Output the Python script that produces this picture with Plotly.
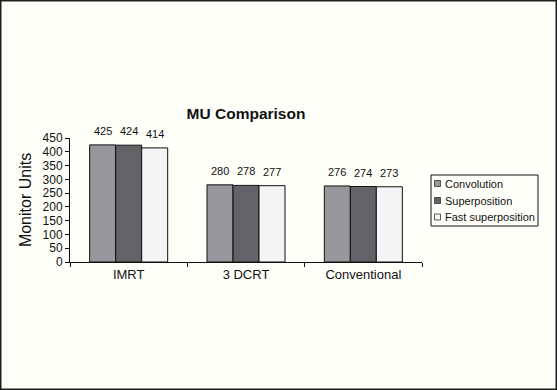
import plotly.graph_objects as go

categories = ["IMRT", "3 DCRT", "Conventional"]
convolution = [425, 280, 276]
superposition = [424, 278, 274]
fast_superposition = [414, 277, 273]
series_names = ["Convolution", "Superposition", "Fast superposition"]
series_colors = ["#97979b", "#636367", "#f4f4f4"]
y_ticks = [0, 50, 100, 150, 200, 250, 300, 350, 400, 450]

W, H = 557, 390
ML, MR, MT, MB = 70, 135, 138, 128
PW = W - ML - MR
PH = H - MT - MB
FONT = "Liberation Sans, Arial, sans-serif"
INK = "#111111"


def px_x(p):
    return (p - ML) / PW


def px_y(p):
    return (MT + PH - p) / PH


fig = go.Figure()
series = [convolution, superposition, fast_superposition]
for name, vals, col in zip(series_names, series, series_colors):
    fig.add_trace(go.Bar(
        x=categories, y=vals, name=name, showlegend=False,
        marker=dict(color=col, line=dict(color=INK, width=1)),
    ))

bargap = 0.335
bar_px = PW / len(categories) * (1 - bargap) / 3
for i, vals in enumerate(series):
    for c, v in zip(categories, vals):
        fig.add_annotation(
            x=c, y=v, text=str(v), showarrow=False,
            yanchor="bottom", yshift=6, xshift=(i - 1) * bar_px,
            font=dict(family=FONT, size=11, color=INK),
        )

# figure border
fig.add_shape(
    type="rect", xref="paper", yref="paper",
    x0=px_x(0.75), x1=px_x(W - 0.75), y0=px_y(H - 0.75), y1=px_y(0.75),
    line=dict(color="#1e1e1e", width=1.5), fillcolor="rgba(0,0,0,0)",
)

# legend drawn by hand (box, swatches, labels)
LX0, LX1, LY0, LY1 = 431, 538, 175, 226
fig.add_shape(type="rect", xref="paper", yref="paper",
              x0=px_x(LX0), x1=px_x(LX1), y0=px_y(LY1), y1=px_y(LY0),
              line=dict(color=INK, width=1), fillcolor="#fffffa")
item_y = [183.5, 200.5, 217]
for name, col, yy in zip(series_names, series_colors, item_y):
    fig.add_shape(type="rect", xref="paper", yref="paper",
                  x0=px_x(434.5), x1=px_x(440.5), y0=px_y(yy + 3), y1=px_y(yy - 3),
                  line=dict(color="#333333", width=0.8), fillcolor=col)
    fig.add_annotation(xref="paper", yref="paper", x=px_x(442.5), y=px_y(yy),
                       text=name, showarrow=False, xanchor="left", yanchor="middle",
                       font=dict(family=FONT, size=11, color=INK))

fig.update_layout(
    width=W, height=H,
    margin=dict(l=ML, r=MR, t=MT, b=MB, pad=0, autoexpand=False),
    paper_bgcolor="#fffffa", plot_bgcolor="#fffffa",
    barmode="group", bargap=bargap, bargroupgap=0,
    font=dict(family=FONT, color=INK),
    title=dict(text="<b>MU Comparison</b>", x=(ML + PW / 2) / W, xanchor="center",
               y=1 - 114 / H, yanchor="middle",
               font=dict(family=FONT, size=15.5, color=INK)),
    showlegend=False,
    xaxis=dict(showline=True, linecolor=INK, linewidth=1,
               ticks="outside", tickson="boundaries", ticklen=4, tickcolor=INK,
               tickfont=dict(family=FONT, size=13, color=INK),
               showgrid=False, zeroline=False, automargin=False),
    yaxis=dict(range=[0, 450], tickvals=y_ticks, showline=True, linecolor=INK,
               linewidth=1, ticks="outside", ticklen=4, tickcolor=INK,
               tickfont=dict(family=FONT, size=12, color=INK),
               showgrid=False, zeroline=False, automargin=False,
               title=dict(text="Monitor Units", font=dict(family=FONT, size=16, color=INK),
                          standoff=6)),
)

fig.write_html("out.html", config={"displayModeBar": False},
               post_script="document.body.style.margin='0';")
